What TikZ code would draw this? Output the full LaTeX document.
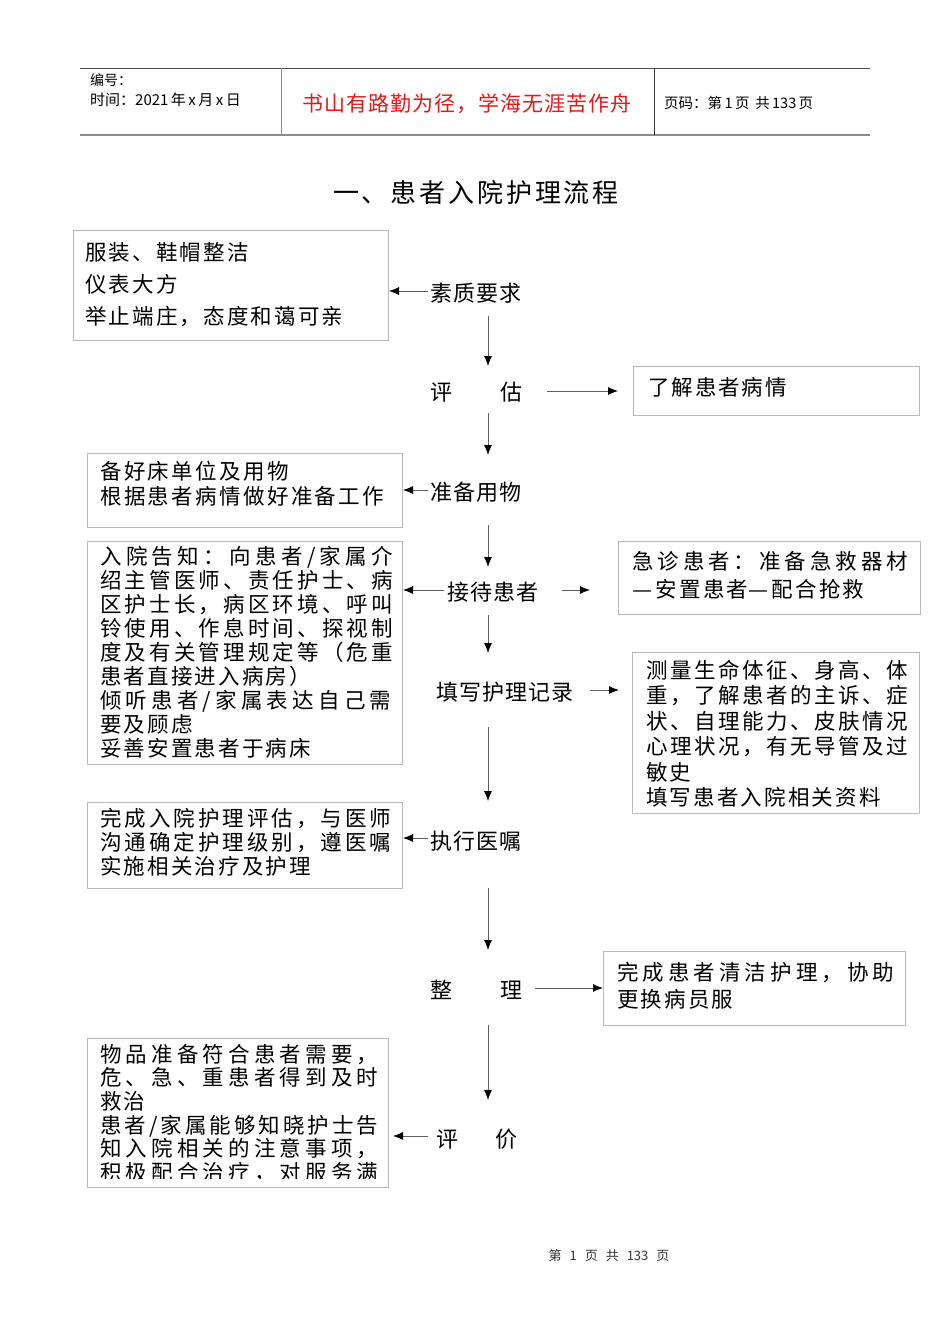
\documentclass[tikz,border=0pt]{standalone}
\usepackage{fontspec}
\setmainfont{Noto Sans CJK SC}
\usetikzlibrary{arrows.meta}
\definecolor{boxgray}{RGB}{185,185,185}
\definecolor{linegray}{RGB}{95,95,95}
\definecolor{redtxt}{RGB}{225,25,25}
\newcommand{\fs}[3]{\fontsize{#1}{#2}\selectfont\addfontfeatures{LetterSpace=#3}}
\newcommand{\wdash}{\makebox[23.6pt][l]{\resizebox{20pt}{\height}{—}}}
\ExplSyntaxOn
\NewDocumentCommand\jl{mm}{\hbox~to~#1{\tl_map_inline:nn{#2}{##1\hfil}\unskip}}
\ExplSyntaxOff
\begin{document}
\begin{tikzpicture}[x=1pt,y=-1pt,
  box/.style={draw=boxgray, line width=1pt, anchor=north west, inner sep=0pt},
  txt/.style={anchor=north west, inner sep=0pt, align=left},
  lbl/.style={anchor=west, inner sep=0pt, font=\fs{22}{26}{5}},
  arr/.style={draw=linegray, line width=0.8pt, -{Latex[length=10pt,width=8pt,color=black]}},
  hdr/.style={anchor=west, inner sep=0pt}]
\fill[white] (0,0) rectangle (950,1344);
\useasboundingbox (0,0) rectangle (950,1344);
% header
\draw[draw=black!70, line width=1pt] (80,68) -- (870,68);
\draw[draw=black!45, line width=2pt] (80,135) -- (870,135);
\draw[draw=black!45, line width=1pt] (281,68) -- (281,135);
\draw[draw=black!80, line width=1pt] (654,68) -- (654,135);
\node[hdr, font=\fs{14}{16}{0}] (hno) at (90,80) {编号：};
\node[hdr, font=\fs{15}{17}{0}] (htime) at (90,100) {时间：2021\,年\,x\,月\,x\,日};
\node[hdr, font=\fs{21}{24}{5}, text=redtxt] (hmotto) at (302,104) {书山有路勤为径，学海无涯苦作舟};
\node[hdr, font=\fs{14.5}{17}{0}] (hpage) at (664,103) {页码：第\,1\,页\, 共\,133\,页};
% title
\node[anchor=center, inner sep=0pt, font=\fs{26}{30}{11}] (title) at (476,193) {一、患者入院护理流程};
% boxes
\node[box, minimum width=315pt, minimum height=110pt] (A) at (73,230) {};
\node[box, minimum width=286pt, minimum height=49pt] (B) at (633,366) {};
\node[box, minimum width=315pt, minimum height=74pt] (C) at (87,453) {};
\node[box, minimum width=315pt, minimum height=223pt] (D) at (87,541) {};
\node[box, minimum width=302pt, minimum height=73pt] (F) at (618,541) {};
\node[box, minimum width=287pt, minimum height=161pt] (G) at (632,652) {};
\node[box, minimum width=315pt, minimum height=86pt] (E) at (87,802) {};
\node[box, minimum width=302pt, minimum height=74pt] (H) at (603,951) {};
\node[box, minimum width=301pt, minimum height=149pt] (I) at (87,1038) {};
% box texts
\node[txt, font=\fs{21.5}{32}{10}] (At) at (85,242) {服装、鞋帽整洁\\仪表大方\\举止端庄，态度和蔼可亲};
\node[txt, font=\fs{21.5}{24}{9}] (Bt) at (648,377) {了解患者病情};
\node[txt, font=\fs{21.5}{25}{11}] (Ct) at (100,461) {备好床单位及用物\\根据患者病情做好准备工作};
\node[txt, font=\fs{21.5}{24}{10}] (Dt) at (100,546) {\jl{293pt}{入院告知：向患者/家属介}\\\jl{293pt}{绍主管医师、责任护士、病}\\\jl{293pt}{区护士长，病区环境、呼叫}\\\jl{293pt}{铃使用、作息时间、探视制}\\\jl{293pt}{度及有关管理规定等（危重}\\患者直接进入病房）\\\jl{291pt}{倾听患者/家属表达自己需}\\要及顾虑\\妥善安置患者于病床};
\node[txt, font=\fs{21.5}{28}{10}] (Ft) at (632,551) {\jl{276pt}{急诊患者：准备急救器材}\\\wdash 安置患者\wdash 配合抢救};
\node[txt, font=\fs{21.5}{25.4}{10}] (Gt) at (646,660) {\jl{262pt}{测量生命体征、身高、体}\\\jl{262pt}{重，了解患者的主诉、症}\\\jl{262pt}{状、自理能力、皮肤情况}\\\jl{262pt}{心理状况，有无导管及过}\\敏史\\填写患者入院相关资料};
\node[txt, font=\fs{21.5}{24}{10}] (Et) at (100,808) {\jl{291pt}{完成入院护理评估，与医师}\\\jl{291pt}{沟通确定护理级别，遵医嘱}\\实施相关治疗及护理};
\node[txt, font=\fs{21.5}{27}{10}] (Ht) at (617,962) {\jl{277pt}{完成患者清洁护理，协助}\\更换病员服};
\begin{scope}
\clip (88,1039) rectangle (387,1178);
\node[txt, font=\fs{21.5}{23.6}{10}] (It) at (100,1044) {\jl{278pt}{物品准备符合患者需要，}\\\jl{278pt}{危、急、重患者得到及时}\\救治\\\jl{278pt}{患者/家属能够知晓护士告}\\\jl{278pt}{知入院相关的注意事项，}\\\jl{278pt}{积极配合治疗，对服务满}};
\end{scope}
% flow labels
\node[lbl] (s1) at (430,293) {素质要求};
\node[lbl] (s2) at (430,392) {评\hspace{48pt}估};
\node[lbl] (s3) at (430,492) {准备用物};
\node[lbl] (s4) at (447,592) {接待患者};
\node[lbl] (s5) at (436,692) {填写护理记录};
\node[lbl] (s6) at (430,841) {执行医嘱};
\node[lbl] (s7) at (430,990) {整\hspace{48pt}理};
\node[lbl] (s8) at (436,1139) {评\hspace{37pt}价};
% connector coordinates
\coordinate (v1a) at (488,316); \coordinate (v1b) at (488,366);
\coordinate (v2a) at (488,413); \coordinate (v2b) at (488,455);
\coordinate (v3a) at (488,525); \coordinate (v3b) at (488,567);
\coordinate (v4a) at (488,615); \coordinate (v4b) at (488,653);
\coordinate (v5a) at (488,727); \coordinate (v5b) at (488,801);
\coordinate (v6a) at (488,888); \coordinate (v6b) at (488,950);
\coordinate (v7a) at (488,1025); \coordinate (v7b) at (488,1100);
\coordinate (h1a) at (428,291);
\coordinate (h2a) at (547,391); \coordinate (h2b) at (618,391);
\coordinate (h3a) at (428,490);
\coordinate (h4a) at (444,590);
\coordinate (h5a) at (562,590); \coordinate (h5b) at (590,590);
\coordinate (h6a) at (590,690); \coordinate (h6b) at (619,690);
\coordinate (h7a) at (428,838);
\coordinate (h8a) at (535,988);
\coordinate (h9a) at (428,1136); \coordinate (h9b) at (393,1136);
% connectors
\draw[arr] (v1a) -- (v1b);
\draw[arr] (v2a) -- (v2b);
\draw[arr] (v3a) -- (v3b);
\draw[arr] (v4a) -- (v4b);
\draw[arr] (v5a) -- (v5b);
\draw[arr] (v6a) -- (v6b);
\draw[arr] (v7a) -- (v7b);
\draw[arr] (h1a) -- (h1a -| A.east);
\draw[arr] (h2a) -- (h2b);
\draw[arr] (h3a) -- (h3a -| C.east);
\draw[arr] (h4a) -- (h4a -| D.east);
\draw[arr] (h5a) -- (h5b);
\draw[arr] (h6a) -- (h6b);
\draw[arr] (h7a) -- (h7a -| E.east);
\draw[arr] (h8a) -- (h8a -| H.west);
\draw[arr] (h9a) -- (h9b);
% footer
\node[anchor=center, inner sep=0pt, font=\fs{13}{15}{0}, text=black!80] (foot) at (609,1256) {第\hspace{8pt}1\hspace{8pt}页\hspace{8pt}共\hspace{8pt}133\hspace{8pt}页};
\end{tikzpicture}
\end{document}
